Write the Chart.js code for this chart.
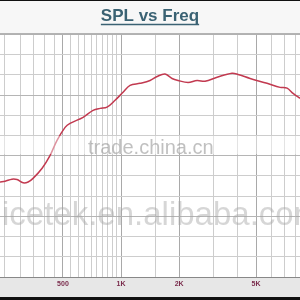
<!DOCTYPE html>
<html>
<head>
<meta charset="utf-8">
<script src="https://cdn.jsdelivr.net/npm/chart.js@4/dist/chart.umd.min.js"></script>
<style>
html, body { margin: 0; padding: 0; background: #fff; }
#wrap { width: 300px; height: 300px; }
</style>
</head>
<body>
<div id="wrap"><canvas id="splChart"></canvas></div>
<script>
// frequency response (Hz / dB)
var freqs = [236, 251, 272, 289, 311, 330, 350, 390, 429, 466, 513, 544, 636, 716, 778, 846, 931,
             1024, 1113, 1254, 1413, 1537, 1690, 1837, 1974, 2223, 2476, 2725, 3143, 3756, 4035,
             4659, 5704, 6664, 7245, 7780, 8450];
var spl = [63.5, 63.7, 64.2, 64.1, 63.3, 63.5, 64.4, 66.9, 70.1, 73.8, 77.0, 78.0, 79.5, 81.2, 81.7, 82.0, 83.7,
           85.7, 87.4, 87.9, 88.6, 89.6, 90.2, 89.1, 88.6, 88.1, 88.6, 88.4, 89.4, 90.4, 90.1,
           89.1, 87.9, 86.9, 86.7, 85.4, 84.2];

var gridFreqs = [250, 300, 350, 400, 450, 500, 550, 600, 650, 700, 750, 800, 850, 900, 950, 1000,
                 1500, 2000, 3000, 4000, 5000, 6000, 7000, 8000];
var tickLabels = { 500: '500', 1000: '1K', 2000: '2K', 5000: '5K' };

var points = [];
for (var i = 0; i < freqs.length; i++) {
    points.push({ x: freqs[i], y: spl[i] });
}

var frame = {
    id: 'frame',
    beforeDraw: function (chart) {
        var c = chart.ctx, a = chart.chartArea;
        c.save();
        c.fillStyle = '#f7f7f7';
        c.fillRect(0, 0, chart.width, chart.height);
        c.fillStyle = '#ffffff';
        c.fillRect(a.left, a.top, a.right - a.left, a.bottom - a.top);
        c.fillStyle = '#e7e7e7';
        c.fillRect(0, a.bottom, chart.width, 297 - a.bottom);
        c.fillStyle = '#111';
        c.fillRect(0, 297, chart.width, 3);
        c.fillRect(0, 0, chart.width, 1);
        c.restore();
    },
    afterDatasetsDraw: function (chart) {
        // the watermark that sits over the picture
        var c = chart.ctx;
        c.save();
        c.fillStyle = 'rgba(255,255,255,0.45)';
        c.fillRect(0, 136, chart.width, 18);
        c.fillStyle = 'rgba(140,140,140,0.55)';
        c.font = '20px "Liberation Sans", Arial, sans-serif';
        c.textBaseline = 'alphabetic';
        c.fillText('trade.china.cn', 88, 154);
        c.fillStyle = 'rgba(165,165,165,0.45)';
        c.font = '33px "Liberation Sans", Arial, sans-serif';
        c.fillText('icetek.en.alibaba.com', 2, 225);
        c.restore();
    },
    afterDraw: function (chart) {
        var c = chart.ctx, a = chart.chartArea;
        c.save();
        c.strokeStyle = '#888';
        c.lineWidth = 1;
        c.beginPath();
        c.moveTo(0, a.top - 0.5);
        c.lineTo(chart.width, a.top - 0.5);
        c.moveTo(0, a.bottom + 0.5);
        c.lineTo(chart.width, a.bottom + 0.5);
        c.stroke();
        // underline under the title
        c.font = 'bold 17px "Liberation Sans", Arial, sans-serif';
        var w = c.measureText('SPL vs Freq').width;
        c.strokeStyle = '#3a6273';
        c.lineWidth = 1.5;
        c.beginPath();
        c.moveTo(chart.width / 2 - w / 2, 24.5);
        c.lineTo(chart.width / 2 + w / 2, 24.5);
        c.stroke();
        c.restore();
    }
};

var ctx = document.getElementById('splChart').getContext('2d');
var chart = new Chart(ctx, {
    type: 'line',
    data: {
        datasets: [{
            data: points,
            borderColor: '#c23a50',
            borderWidth: 1.5,
            pointRadius: 0,
            tension: 0.35,
            fill: false
        }]
    },
    options: {
        responsive: true,
        maintainAspectRatio: false,
        animation: false,
        layout: { padding: { left: 0, right: 0, top: 0, bottom: 3 } },
        plugins: {
            legend: { display: false },
            tooltip: { enabled: false },
            title: {
                display: true,
                text: 'SPL vs Freq',
                color: '#3a6273',
                font: { family: '"Liberation Sans", Arial, sans-serif', size: 17, weight: 'bold' },
                padding: { top: 6, bottom: 8 }
            }
        },
        scales: {
            x: {
                type: 'logarithmic',
                min: 236,
                max: 8450,
                afterBuildTicks: function (scale) {
                    scale.ticks = gridFreqs.map(function (f) { return { value: f }; });
                },
                afterFit: function (scale) { scale.height = 20; },
                ticks: {
                    autoSkip: false,
                    maxRotation: 0,
                    padding: 3,
                    color: '#7a2c4c',
                    font: { family: '"Liberation Sans", Arial, sans-serif', size: 7, weight: 'bold' },
                    callback: function (value) { return tickLabels[value] || ''; }
                },
                grid: {
                    drawTicks: false,
                    color: function (c) {
                        return c.tick && tickLabels[c.tick.value] ? '#a9a9a9' : '#cdcdcd';
                    }
                },
                border: { display: false }
            },
            y: {
                min: 40,
                max: 100,
                afterFit: function (scale) { scale.width = 0; },
                ticks: { display: false, stepSize: 5 },
                grid: {
                    drawTicks: false,
                    color: function (c) {
                        return c.tick && (c.tick.value === 85 || c.tick.value === 70 || c.tick.value === 55) ? '#b5b5b5' : '#cdcdcd';
                    }
                },
                border: { display: false }
            }
        }
    },
    plugins: [frame]
});
</script>
</body>
</html>
